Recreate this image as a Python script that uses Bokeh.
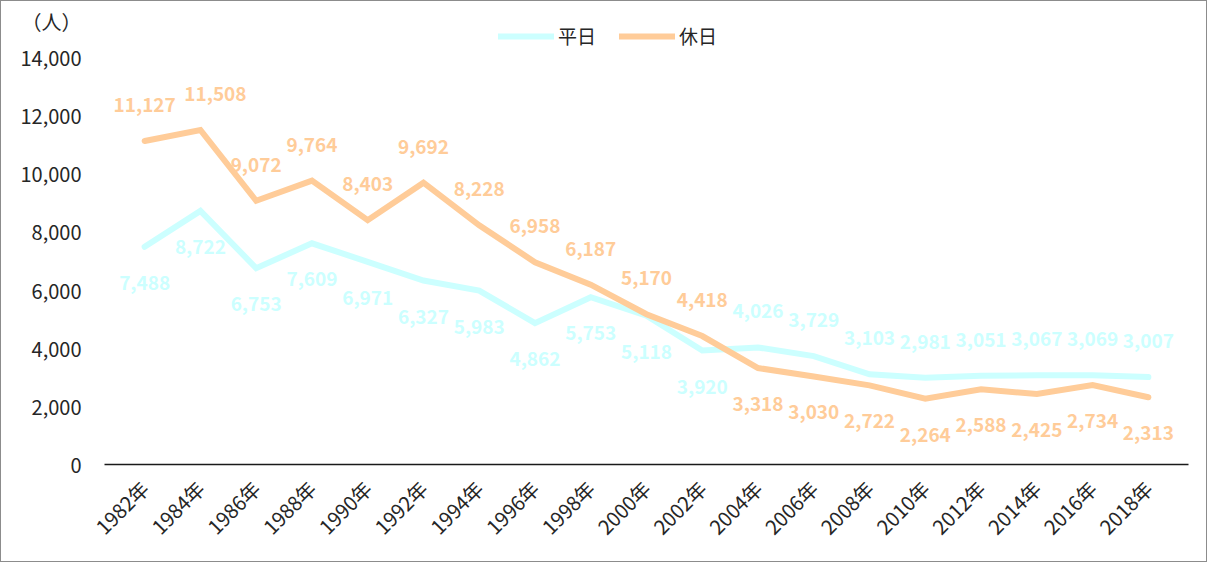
from math import pi
from bokeh.plotting import figure
from bokeh.models import (ColumnDataSource, Legend, LegendItem, FactorRange, Range1d, FixedTicker)
from bokeh.core.properties import value
from bokeh.embed import file_html
from bokeh.resources import INLINE

years = ["1982年", "1984年", "1986年", "1988年", "1990年", "1992年", "1994年", "1996年", "1998年", "2000年",
         "2002年", "2004年", "2006年", "2008年", "2010年", "2012年", "2014年", "2016年", "2018年"]
weekday = [7488, 8722, 6753, 7609, 6971, 6327, 5983, 4862, 5753, 5118,
           3920, 4026, 3729, 3103, 2981, 3051, 3067, 3069, 3007]
holiday = [11127, 11508, 9072, 9764, 8403, 9692, 8228, 6958, 6187, 5170,
           4418, 3318, 3030, 2722, 2264, 2588, 2425, 2734, 2313]
y_ticks = [0, 2000, 4000, 6000, 8000, 10000, 12000, 14000]
unit_text = "（人）"
series_names = ["平日", "休日"]

# layout / style settings
UNIT_POS = 15239          # where the unit caption sits on the value axis (above 14,000)
Y_END = 15926             # value-axis extent so that the legend & caption fit in the frame
weekday_place = ["b"] * 11 + ["a"] * 8   # "a" above, "b" below
holiday_place = ["a"] * 11 + ["b"] * 8
holiday_dx = [0, 15] + [0] * 17
weekday_dx = [0] * 19

CYAN = "#CCFFFF"
ORANGE = "#FFCC99"
FONT = "Noto Sans CJK JP"
TEXT = "#262626"
LABEL_OFF = 36

p = figure(width=1207, height=562, title_location=None,
           x_range=FactorRange(*years, range_padding=0.22, range_padding_units="absolute"),
           y_range=Range1d(0, Y_END),
           output_backend="svg", toolbar_location=None,
           min_border_left=103, min_border_right=20, min_border_top=0, min_border_bottom=99)
p.styles = {"border": "1px solid #8c8c8c", "box-sizing": "border-box"}
p.outline_line_color = None
p.xgrid.grid_line_color = None
p.ygrid.grid_line_color = None
p.background_fill_color = "white"
p.border_fill_color = "white"

# value axis (with the unit caption as its top label)
p.yaxis.ticker = FixedTicker(ticks=y_ticks + [UNIT_POS])
overrides = {v: f"{v:,}" for v in y_ticks}
overrides[UNIT_POS] = unit_text
p.yaxis.major_label_overrides = overrides
p.yaxis.axis_line_color = None
p.yaxis.major_tick_line_color = None
p.yaxis.minor_tick_line_color = None
p.yaxis.major_label_standoff = 17
p.yaxis.major_label_text_font = FONT
p.yaxis.major_label_text_font_size = "20px"
p.yaxis.major_label_text_color = TEXT

p.xaxis.axis_line_color = "#1a1a1a"
p.xaxis.axis_line_width = 1.5
p.xaxis.major_tick_line_color = None
p.xaxis.minor_tick_line_color = None
p.xaxis.major_label_orientation = pi / 4
p.xaxis.major_label_standoff = 14
p.xaxis.major_label_text_font = FONT
p.xaxis.major_label_text_font_size = "20px"
p.xaxis.major_label_text_color = TEXT

src = ColumnDataSource(dict(
    years=years, weekday=weekday, holiday=holiday,
    wk_lab=[f"{v:,}" for v in weekday], hd_lab=[f"{v:,}" for v in holiday],
    wk_dy=[LABEL_OFF if s == "b" else -LABEL_OFF for s in weekday_place],
    hd_dy=[LABEL_OFF if s == "b" else -LABEL_OFF for s in holiday_place],
    wk_dx=weekday_dx, hd_dx=holiday_dx,
))

r_wk = p.line("years", "weekday", source=src, line_color=CYAN, line_width=6, line_join="miter", line_cap="round")
r_hd = p.line("years", "holiday", source=src, line_color=ORANGE, line_width=6, line_join="miter", line_cap="round")

p.text("years", "weekday", text="wk_lab", source=src, x_offset="wk_dx", y_offset="wk_dy",
       text_color=CYAN, text_font=value(FONT), text_font_style="bold", text_font_size="19px",
       text_align="center", text_baseline="middle")
p.text("years", "holiday", text="hd_lab", source=src, x_offset="hd_dx", y_offset="hd_dy",
       text_color=ORANGE, text_font=value(FONT), text_font_style="bold", text_font_size="19px",
       text_align="center", text_baseline="middle")

legend = Legend(items=[LegendItem(label=series_names[0], renderers=[r_wk]),
                       LegendItem(label=series_names[1], renderers=[r_hd])],
                location=(394, 415), orientation="horizontal")
legend.glyph_width = 56
legend.glyph_height = 20
legend.label_standoff = 4
legend.spacing = 23
legend.padding = 0
legend.margin = 0
legend.border_line_color = None
legend.background_fill_alpha = 0
legend.label_text_font = FONT
legend.label_text_font_size = "19px"
legend.label_text_color = TEXT
p.add_layout(legend, "center")

open("out.html", "w").write(file_html(p, INLINE))
